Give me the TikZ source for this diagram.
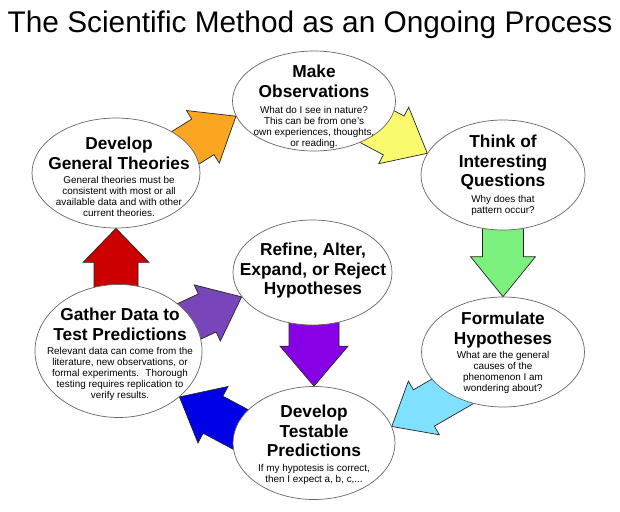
\documentclass[tikz,border=0pt]{standalone}
\usepackage{fontspec}
\setmainfont{Liberation Sans}
\usetikzlibrary{shapes.geometric,backgrounds}
\definecolor{orangearrow}{RGB}{250,166,32}
\definecolor{yellowarrow}{RGB}{250,250,110}
\definecolor{greenarrow}{RGB}{124,240,124}
\definecolor{skyarrow}{RGB}{128,224,255}
\definecolor{bluearrow}{RGB}{0,0,230}
\definecolor{redarrow}{RGB}{204,0,0}
\definecolor{purplearrow}{RGB}{120,70,185}
\definecolor{violetarrow}{RGB}{136,0,230}
% colour, tip, angle, length, shaft half width, head half width, head length
\newcommand{\blockarrow}[7]{%
  \begin{scope}[shift={#2}, rotate=#3]
    \draw[arrowline, fill=#1] (0,0) -- (-#7,#6) -- (-#7,#5) -- (-#4,#5)
      -- (-#4,-#5) -- (-#7,-#5) -- (-#7,-#6) -- cycle;
  \end{scope}}

\begin{document}
\begin{tikzpicture}[x=1pt, y=-1pt,
  stage/.style={ellipse, draw=black!60, line width=0.7pt, fill=white, inner sep=0pt},
  head/.style={anchor=north, inner sep=0pt, align=center, font=\fontsize{17.3}{19.5}\selectfont\bfseries},
  body/.style={anchor=north, inner sep=0pt, align=center, font=\fontsize{9.9}{11}\selectfont},
  arrowline/.style={draw=black!85, line width=0.7pt, line join=miter}]
\useasboundingbox (0,0) rectangle (620,511);

\node[anchor=base, font=\fontsize{29.8}{34}\selectfont] (title) at (310,33) {The Scientific Method as an Ongoing Process};

% the seven stages
\node[stage, minimum width=163pt, minimum height=100pt] (obs) at (314,101) {};
\node[head] (obs-head) at (314,65) {Make\\Observations};
\node[body] (obs-body) at (314,106) {What do I see in nature?\\This can be from one's\\own experiences, thoughts,\\or reading.};

\node[stage, minimum width=164pt, minimum height=110pt] (ques) at (503,175) {};
\node[head] (ques-head) at (503,135) {Think of\\Interesting\\Questions};
\node[body] (ques-body) at (503,195) {Why does that\\pattern occur?};

\node[stage, minimum width=163pt, minimum height=110pt] (form) at (503,352) {};
\node[head] (form-head) at (503,312) {Formulate\\Hypotheses};
\node[body] (form-body) at (503,351) {What are the general\\causes of the\\phenomenon I am\\wondering about?};

\node[stage, minimum width=162pt, minimum height=113pt] (pred) at (314,443) {};
\node[head] (pred-head) at (314,405) {Develop\\Testable\\Predictions};
\node[body] (pred-body) at (314,464) {If my hypotesis is correct,\\then I expect a, b, c,...};

\node[stage, minimum width=167pt, minimum height=133pt] (gather) at (118.5,351) {};
\node[head] (gather-head) at (120,308) {Gather Data to\\Test Predictions};
\node[body] (gather-body) at (120,347) {Relevant data can come from the\\literature, new observations, or\\formal experiments.~ Thorough\\testing requires replication to\\verify results.};

\node[stage, minimum width=168pt, minimum height=110pt] (theo) at (116,173) {};
\node[head] (theo-head) at (119,137) {Develop\\General Theories};
\node[body] (theo-body) at (119,176) {General theories must be\\consistent with most or all\\available data and with other\\current theories.};

\node[stage, minimum width=159pt, minimum height=105pt] (refine) at (312.5,272.5) {};
\node[head] (refine-head) at (313,243) {Refine, Alter,\\Expand, or Reject\\Hypotheses};

% block arrows behind the stages
\begin{pgfonlayer}{background}
\fill[white] (0,0) rectangle (620,511);
\blockarrow{orangearrow}{(obs.191)}{32}{90}{21}{31}{39}
\blockarrow{yellowarrow}{(ques.164)}{-28}{85}{22}{32}{38}
\blockarrow{greenarrow}{(form.north)}{-90}{90}{20.5}{32.5}{40}
\blockarrow{skyarrow}{(pred.12)}{210}{90}{21}{31}{37}
\blockarrow{bluearrow}{(gather.323)}{152}{90}{21}{32}{38}
\blockarrow{redarrow}{(theo.south)}{90}{90}{22}{33}{34}
\blockarrow{purplearrow}{(refine.199)}{25}{85}{21}{31}{38}
\blockarrow{violetarrow}{(pred.north)}{-90}{80}{25}{34}{40}
\end{pgfonlayer}
\end{tikzpicture}
\end{document}
